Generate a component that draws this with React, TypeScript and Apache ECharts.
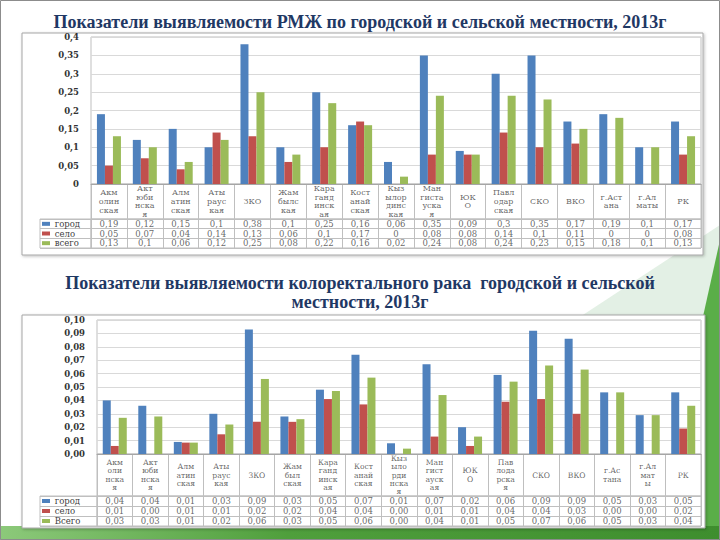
import React, { useEffect, useRef } from "react";
import * as echarts from "echarts";

// ---------- data ----------
const regionsTop = [
  "Акм\nолин\nская", "Акт\nюби\nнска\nя", "Алм\nатин\nская", "Аты\nраус\nкая", "ЗКО",
  "Жам\nбылс\nкая", "Кара\nганд\nинск\nая", "Кост\nанай\nская", "Кыз\nылор\nдинс\nкая",
  "Ман\nгиста\nуска\nя", "ЮК\nО", "Павл\nодар\nская", "СКО", "ВКО", "г.Аст\nана", "г.Ал\nматы", "РК",
];
const regionsBottom = [
  "Акм\nоли\nнска\nя", "Акт\nюби\nнска\nя", "Алм\nатин\nская", "Аты\nраус\nкая", "ЗКО",
  "Жам\nбыл\nская", "Кара\nганд\nинск\nая", "Кост\nанай\nская", "Кыз\nыло\nрди\nнска\nя",
  "Ман\nгист\nауск\nая", "ЮК\nО", "Пав\nлода\nрска\nя", "СКО", "ВКО", "г.Ас\nтана", "г.Ал\nмат\nы", "РК",
];
const rowsTop = ["город", "село", "всего"];
const rowsBottom = ["город", "село", "Всего"];

// breast cancer (РМЖ)
const rmzCity = [0.19, 0.12, 0.15, 0.1, 0.38, 0.1, 0.25, 0.16, 0.06, 0.35, 0.09, 0.3, 0.35, 0.17, 0.19, 0.1, 0.17];
const rmzVillage = [0.05, 0.07, 0.04, 0.14, 0.13, 0.06, 0.1, 0.17, 0, 0.08, 0.08, 0.14, 0.1, 0.11, 0, 0, 0.08];
const rmzTotal = [0.13, 0.1, 0.06, 0.12, 0.25, 0.08, 0.22, 0.16, 0.02, 0.24, 0.08, 0.24, 0.23, 0.15, 0.18, 0.1, 0.13];

// colorectal cancer
const crcCity = [0.040, 0.036, 0.009, 0.030, 0.093, 0.028, 0.048, 0.074, 0.008, 0.067, 0.020, 0.059, 0.092, 0.086, 0.046, 0.029, 0.046];
const crcVillage = [0.006, 0, 0.0085, 0.0147, 0.024, 0.024, 0.041, 0.037, 0, 0.013, 0.006, 0.039, 0.041, 0.030, 0, 0, 0.019];
const crcTotal = [0.027, 0.028, 0.0085, 0.022, 0.056, 0.026, 0.047, 0.057, 0.004, 0.044, 0.013, 0.054, 0.066, 0.063, 0.046, 0.029, 0.036];

const titleTop = "Показатели выявляемости РМЖ по городской и сельской местности, 2013г";
const titleBottom = "Показатели выявляемости колоректального рака  городской и сельской\nместности, 2013г";

const COLORS = ["#4F81BD", "#C0504D", "#9BBB59"];
const SERIF = "Liberation Serif";
const SMALL = "DejaVu Serif";
const LINE = "#bfbfbf";

const fmtTop = (v: number) => String(Math.round(v * 100) / 100).replace(".", ",");
const fmtBottom = (v: number) => (Math.round(v * 100) / 100).toFixed(2).replace(".", ",");

function buildBlock(
  base: number,
  cats: string[],
  rows: string[],
  series: number[][],
  fmt: (v: number) => string,
  yMax: number,
  yInterval: number,
  layout: { left: number; width: number; top: number; plotH: number; namesH: number; rowsH: number },
  nameFont: number,
  nameLineHeight: number
) {
  const idx = cats.map((_, i) => String(i));
  const grids = [
    { left: layout.left, width: layout.width, top: layout.top, height: layout.plotH, show: true, borderColor: LINE, borderWidth: 1, backgroundColor: "transparent" },
    { left: layout.left, width: layout.width, top: layout.top + layout.plotH, height: layout.namesH, show: true, borderColor: LINE, borderWidth: 1, backgroundColor: "transparent" },
    { left: layout.left, width: layout.width, top: layout.top + layout.plotH + layout.namesH, height: layout.rowsH, show: true, borderColor: LINE, borderWidth: 1, backgroundColor: "transparent" },
  ];
  const xAxes = [
    { type: "category", gridIndex: base, data: idx, axisLabel: { show: false }, axisTick: { show: false }, axisLine: { show: true, lineStyle: { color: "#a6a6a6" } } },
    { type: "category", gridIndex: base + 1, data: idx, axisLabel: { show: false }, axisTick: { show: false }, axisLine: { show: false }, splitLine: { show: true, interval: 0, lineStyle: { color: LINE } } },
    { type: "category", gridIndex: base + 2, data: idx, axisLabel: { show: false }, axisTick: { show: false }, axisLine: { show: false }, splitLine: { show: true, interval: 0, lineStyle: { color: LINE } } },
  ];
  const rich: any = {
    t: { fontFamily: SMALL, fontSize: 8.5, color: "#404040", padding: [0, 0, 0, 2] },
  };
  COLORS.forEach((c, i) => {
    rich["sq" + i] = { backgroundColor: c, width: 8, height: 4 };
  });
  const yAxes = [
    {
      type: "value", gridIndex: base, min: 0, max: yMax, interval: yInterval,
      axisLine: { show: false }, axisTick: { show: false },
      splitLine: { show: true, lineStyle: { color: "#d9d9d9" } },
      axisLabel: { formatter: (v: number) => fmt(v), fontFamily: SMALL, fontWeight: "bold", fontSize: 8.5, color: "#333", margin: 12 },
    },
    { type: "category", gridIndex: base + 1, data: ["n"], axisLabel: { show: false }, axisTick: { show: false }, axisLine: { show: false } },
    {
      type: "category", gridIndex: base + 2, data: rows, inverse: true,
      axisLine: { show: true, lineStyle: { color: LINE } },
      axisTick: { show: true, length: layout.left - 40, interval: 0, lineStyle: { color: LINE } },
      splitLine: { show: true, interval: 0, lineStyle: { color: LINE } },
      axisLabel: {
        align: "left", margin: layout.left - 42, interval: 0,
        formatter: (v: string, i: number) => `{sq${i}| }{t| ${v}}`,
        rich,
      },
    },
  ];
  const bars = series.map((d, s) => ({
    type: "bar", name: rows[s], xAxisIndex: base, yAxisIndex: base, data: d,
    barWidth: 8, barGap: "0%", itemStyle: { color: COLORS[s] }, silent: true,
  }));
  const names = {
    type: "scatter", xAxisIndex: base + 1, yAxisIndex: base + 1, silent: true,
    symbolSize: 1, itemStyle: { color: "rgba(0,0,0,0)" },
    data: cats.map((c, i) => ({ value: [i, 0], name: c })),
    label: { show: true, position: "inside", formatter: (p: any) => p.name, fontFamily: SMALL, fontSize: nameFont, lineHeight: nameLineHeight, color: "#404040", align: "center", verticalAlign: "middle" },
  };
  const tableData: any[] = [];
  series.forEach((d, r) => d.forEach((v, i) => tableData.push({ value: [i, r, v] })));
  const table = {
    type: "scatter", xAxisIndex: base + 2, yAxisIndex: base + 2, silent: true,
    symbolSize: 1, itemStyle: { color: "rgba(0,0,0,0)" },
    encode: { x: 0, y: 1 },
    data: tableData,
    label: { show: true, position: "inside", formatter: (p: any) => fmt(p.value[2]), fontFamily: SMALL, fontSize: 8.5, color: "#404040" },
  };
  return { grids, xAxes, yAxes, series: [...bars, names, table] };
}

export default function App() {
  const ref = useRef<HTMLDivElement>(null);
  useEffect(() => {
    if (!ref.current) return;
    const chart = echarts.init(ref.current, undefined, { renderer: "svg" });
    const top = buildBlock(0, regionsTop, rowsTop, [rmzCity, rmzVillage, rmzTotal], fmtTop, 0.4, 0.05,
      { left: 91, width: 610, top: 37, plotH: 147, namesH: 35, rowsH: 29 }, 8, 8.7);
    const bot = buildBlock(3, regionsBottom, rowsBottom, [crcCity, crcVillage, crcTotal], fmtBottom, 0.1, 0.01,
      { left: 97, width: 604, top: 320, plotH: 134, namesH: 42, rowsH: 30 }, 7.6, 8.3);

    const option: any = {
      animation: false,
      backgroundColor: "#ffffff",
      textStyle: { fontFamily: SERIF },
      title: [
        { text: titleTop, left: "center", top: 8, textStyle: { fontFamily: SERIF, fontWeight: "bold", fontSize: 18, color: "#1f3864" } },
        { text: titleBottom, left: "center", top: 268, textStyle: { fontFamily: SERIF, fontWeight: "bold", fontSize: 18, lineHeight: 19, color: "#1f3864" } },
      ],
      graphic: {
        elements: [
          { type: "polygon", z: -20, shape: { points: [[560, 330], [720, 225], [720, 540], [560, 540]] }, style: { fill: "#e3f0e5" } },
          { type: "polygon", z: -19, shape: { points: [[700, 330], [720, 240], [720, 540], [700, 540]] }, style: { fill: "#5aae48" } },
          { type: "rect", z: -18, shape: { x: 0, y: 526, width: 720, height: 14 }, style: { fill: new echarts.graphic.LinearGradient(0, 0, 1, 0, [{ offset: 0, color: "#8cc97a" }, { offset: 0.4, color: "#4f9f3c" }, { offset: 1, color: "#3e8e2e" }]) } },
          { type: "rect", z: -10, shape: { x: 22, y: 33, width: 681, height: 222 }, style: { fill: "#fff", stroke: "#a6a6a6", lineWidth: 1, shadowBlur: 3, shadowColor: "rgba(0,0,0,0.25)", shadowOffsetX: 1, shadowOffsetY: 1 } },
          { type: "rect", z: -10, shape: { x: 22, y: 315, width: 683, height: 213 }, style: { fill: "#fff", stroke: "#a6a6a6", lineWidth: 1, shadowBlur: 3, shadowColor: "rgba(0,0,0,0.25)", shadowOffsetX: 1, shadowOffsetY: 1 } },
          { type: "rect", z: 5, shape: { x: 40, y: 219, width: 51, height: 29 }, style: { fill: "none", stroke: LINE, lineWidth: 1 } },
          { type: "rect", z: 5, shape: { x: 40, y: 496, width: 57, height: 30 }, style: { fill: "none", stroke: LINE, lineWidth: 1 } },
          { type: "rect", z: 6, shape: { x: 0.5, y: 0.5, width: 719, height: 539 }, style: { fill: "none", stroke: "#8c8c8c", lineWidth: 1 } },
        ],
      },
      grid: [...top.grids, ...bot.grids],
      xAxis: [...top.xAxes, ...bot.xAxes],
      yAxis: [...top.yAxes, ...bot.yAxes],
      series: [...top.series, ...bot.series],
    };
    chart.setOption(option);
    return () => chart.dispose();
  }, []);
  return <div ref={ref} style={{ position: "fixed", left: 0, top: 0, width: 720, height: 540 }} />;
}
